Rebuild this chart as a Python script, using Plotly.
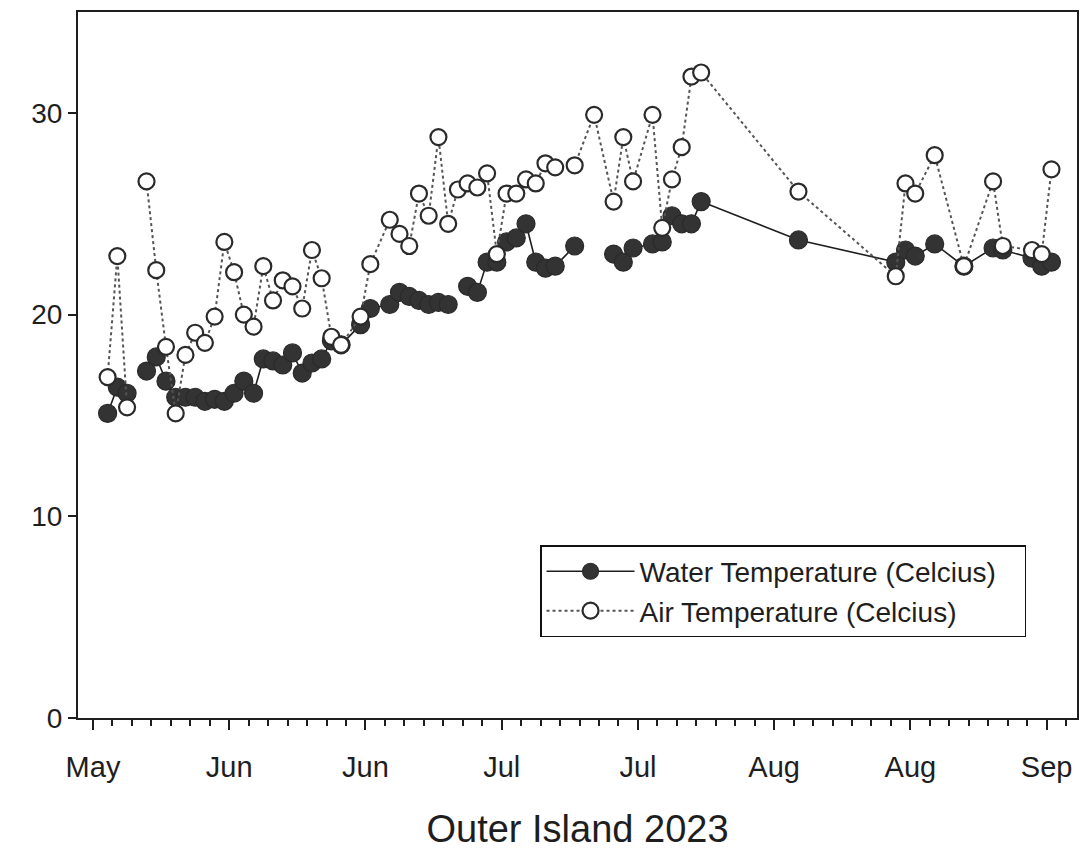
import plotly.graph_objects as go

# ---- data ----
dates = [
    "2023-05-29", "2023-05-30", "2023-05-31", "2023-06-01", "2023-06-02", "2023-06-03",
    "2023-06-04", "2023-06-05", "2023-06-06", "2023-06-07", "2023-06-08", "2023-06-09",
    "2023-06-10", "2023-06-11", "2023-06-12", "2023-06-13", "2023-06-14", "2023-06-15",
    "2023-06-16", "2023-06-17", "2023-06-18", "2023-06-19", "2023-06-20", "2023-06-21",
    "2023-06-22", "2023-06-24", "2023-06-25", "2023-06-27", "2023-06-28", "2023-06-29",
    "2023-06-30", "2023-07-01", "2023-07-02", "2023-07-03", "2023-07-04", "2023-07-05",
    "2023-07-06", "2023-07-07", "2023-07-08", "2023-07-09", "2023-07-10", "2023-07-11",
    "2023-07-12", "2023-07-13", "2023-07-14", "2023-07-16", "2023-07-18", "2023-07-20",
    "2023-07-21", "2023-07-22", "2023-07-24", "2023-07-25", "2023-07-26", "2023-07-27",
    "2023-07-28", "2023-07-29", "2023-08-08", "2023-08-18", "2023-08-19", "2023-08-20",
    "2023-08-22", "2023-08-25", "2023-08-28", "2023-08-29", "2023-09-01", "2023-09-02",
    "2023-09-03",
]
reading_time = "12:00"  # readings plotted mid-day

water_temp = [
    15.1, 16.4, 16.1, None, 17.2, 17.9,
    16.7, 15.9, 15.9, 15.9, 15.7, 15.8,
    15.7, 16.1, 16.7, 16.1, 17.8, 17.7,
    17.5, 18.1, 17.1, 17.6, 17.8, 18.7,
    18.5, 19.5, 20.3, 20.5, 21.1, 20.9,
    20.7, 20.5, 20.6, 20.5, None, 21.4,
    21.1, 22.6, 22.6, 23.6, 23.8, 24.5,
    22.6, 22.3, 22.4, 23.4, None, 23.0,
    22.6, 23.3, 23.5, 23.6, 24.9, 24.5,
    24.5, 25.6, 23.7, 22.6, 23.2, 22.9,
    23.5, 22.4, 23.3, 23.2, 22.8, 22.4,
    22.6,
]

air_temp = [
    16.9, 22.9, 15.4, None, 26.6, 22.2,
    18.4, 15.1, 18.0, 19.1, 18.6, 19.9,
    23.6, 22.1, 20.0, 19.4, 22.4, 20.7,
    21.7, 21.4, 20.3, 23.2, 21.8, 18.9,
    18.5, 19.9, 22.5, 24.7, 24.0, 23.4,
    26.0, 24.9, 28.8, 24.5, 26.2, 26.5,
    26.3, 27.0, 23.0, 26.0, 26.0, 26.7,
    26.5, 27.5, 27.3, 27.4, 29.9, 25.6,
    28.8, 26.6, 29.9, 24.3, 26.7, 28.3,
    31.8, 32.0, 26.1, 21.9, 26.5, 26.0,
    27.9, 22.4, 26.6, 23.4, 23.2, 23.0,
    27.2,
]

tick_dates = ["2023-05-28", "2023-06-11", "2023-06-25", "2023-07-09",
              "2023-07-23", "2023-08-06", "2023-08-20", "2023-09-03"]
tick_labels = ["May", "Jun", "Jun", "Jul", "Jul", "Aug", "Aug", "Sep"]

y_ticks = [0, 10, 20, 30]

title_text = "Outer Island 2023"
water_name = "Water Temperature (Celcius)"
air_name = "Air Temperature (Celcius)"

# ---- figure ----
FONT = "Liberation Sans, Arial, sans-serif"
INK = "#1e1e1e"
PAD = "\u00a0" * 3  # right padding inside the legend box

x_vals = [d + " " + reading_time for d in dates]

fig = go.Figure()
fig.add_trace(go.Scatter(
    x=x_vals, y=water_temp, name=water_name + PAD, mode="lines+markers",
    connectgaps=False,
    line=dict(color=INK, width=1.6),
    marker=dict(symbol="circle", size=18, color="#333333",
                line=dict(color="#2a2a2a", width=1.2)),
))
fig.add_trace(go.Scatter(
    x=x_vals, y=air_temp, name=air_name, mode="lines+markers",
    connectgaps=False,
    line=dict(color="#555555", width=2, dash="dot"),
    marker=dict(symbol="circle", size=16, color="white",
                line=dict(color="#2a2a2a", width=2.2)),
))

fig.update_layout(
    width=1083, height=852,
    paper_bgcolor="white", plot_bgcolor="white",
    margin=dict(l=78, r=6, t=12, b=134),
    font=dict(family=FONT, color=INK, size=28),
    showlegend=True,
    legend=dict(
        x=0.4625, y=0.245, xanchor="left", yanchor="top",
        bgcolor="white", bordercolor="#111111", borderwidth=1.5,
        font=dict(family=FONT, size=28, color=INK),
        itemwidth=88,
        tracegroupgap=0,
    ),
)

fig.update_xaxes(
    type="date",
    range=["2023-05-26 11:00", "2023-09-06 03:00"],
    tickmode="array", tickvals=tick_dates, ticktext=tick_labels,
    ticks="outside", ticklen=10, tickwidth=2, tickcolor=INK,
    tickfont=dict(size=29, family=FONT, color=INK),
    ticklabelstandoff=12,
    showline=True, linecolor=INK, linewidth=2, mirror=True,
    showgrid=False, zeroline=False,
    minor=dict(tickmode="linear", tick0="2023-05-28", dtick=2 * 86400000,
               ticks="outside", ticklen=6, tickwidth=2, tickcolor=INK,
               showgrid=False),
    title=dict(text=title_text, font=dict(size=38, family=FONT, color=INK),
               standoff=34),
)
fig.update_yaxes(
    range=[0, 35],
    tickmode="array", tickvals=y_ticks,
    ticks="outside", ticklen=8, tickwidth=2, tickcolor=INK,
    tickfont=dict(size=28, family=FONT, color=INK),
    showline=True, linecolor=INK, linewidth=2, mirror=True,
    showgrid=False, zeroline=False,
    automargin=False,
)

fig.write_html("out.html", config={"displayModeBar": False},
               post_script="document.body.style.margin='0';")
